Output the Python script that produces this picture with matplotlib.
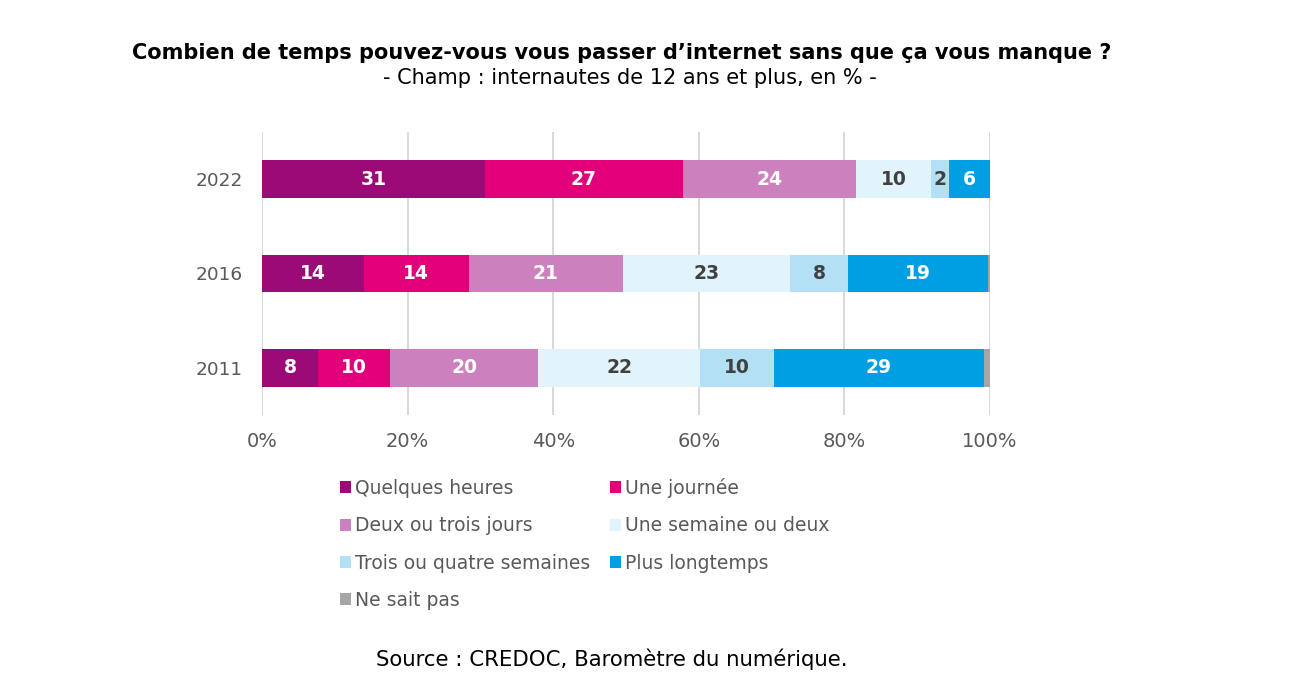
import numpy as np
import matplotlib.pyplot as plt
from matplotlib.patches import Patch

plt.rcParams['font.family'] = ['DejaVu Sans']

years = ['2022', '2016', '2011']
categories = ['Quelques heures', 'Une journée', 'Deux ou trois jours',
              'Une semaine ou deux', 'Trois ou quatre semaines',
              'Plus longtemps', 'Ne sait pas']

# share of each answer per year (2022, 2016, 2011), in %
quelques_heures = [30.6, 14.0, 7.7]
une_journee = [27.2, 14.4, 9.9]
deux_trois_jours = [23.8, 21.2, 20.3]
une_semaine = [10.3, 22.9, 22.3]
trois_quatre_sem = [2.5, 8.0, 10.1]
plus_longtemps = [5.6, 19.2, 28.9]
ne_sait_pas = [0.0, 0.3, 0.8]

# printed labels (rounded values as shown)
labels_qh = ['31', '14', '8']
labels_uj = ['27', '14', '10']
labels_dt = ['24', '21', '20']
labels_us = ['10', '23', '22']
labels_tq = ['2', '8', '10']
labels_pl = ['6', '19', '29']
labels_ns = ['', '', '']

series = [quelques_heures, une_journee, deux_trois_jours, une_semaine,
          trois_quatre_sem, plus_longtemps, ne_sait_pas]
series_labels = [labels_qh, labels_uj, labels_dt, labels_us,
                 labels_tq, labels_pl, labels_ns]
colors = ['#9B0A76', '#E2007A', '#CD80BE', '#E1F4FC', '#B3E0F5',
          '#009FE3', '#A6A6A6']
text_colors = ['white', 'white', 'white', '#404040', '#404040', 'white', 'white']

grey = '#595959'

fig = plt.figure(figsize=(13.13, 6.9), dpi=100)
ax = fig.add_axes([262 / 1313, 1 - 415 / 690, 728 / 1313, 283 / 690])

ypos = np.arange(len(years))
left = np.zeros(len(years))
for vals, labs, col, tcol in zip(series, series_labels, colors, text_colors):
    vals = np.array(vals)
    bars = ax.barh(ypos, vals, left=left, height=0.4, color=col, zorder=3)
    for bar, lab in zip(bars, labs):
        if lab:
            ax.text(bar.get_x() + bar.get_width() / 2, bar.get_y() + bar.get_height() / 2,
                    lab, ha='center', va='center', color=tcol,
                    fontsize=13.5, fontweight='bold', zorder=4)
    left += vals

ax.set_xlim(0, 100)
ax.set_ylim(2.5, -0.5)
ax.set_xticks(np.arange(0, 101, 20))
ax.set_xticklabels([f'{t}%' for t in range(0, 101, 20)], color=grey, fontsize=14)
ax.set_yticks(ypos)
ax.set_yticklabels(years, color=grey, fontsize=13.3)
ax.tick_params(axis='y', length=0, pad=14)
ax.tick_params(axis='x', length=0, pad=12)
ax.grid(axis='x', color='#D6D6D6', linewidth=1.3, zorder=0)
for s in ax.spines.values():
    s.set_visible(False)

fig.text(622 / 1313, 1 - 53 / 690, 'Combien de temps pouvez-vous vous passer d’internet sans que ça vous manque ?',
         ha='center', va='center', fontsize=15, fontweight='bold', color='black')
fig.text(630 / 1313, 1 - 78 / 690, '- Champ : internautes de 12 ans et plus, en % -',
         ha='center', va='center', fontsize=15, color='black')
fig.text(612 / 1313, 1 - 659 / 690, 'Source : CREDOC, Baromètre du numérique.',
         ha='center', va='center', fontsize=15.3, color='black')

# column-first order so the legend reads row by row
order = [0, 2, 4, 6, 1, 3, 5]
handles = [Patch(facecolor=colors[i], edgecolor='none', label=categories[i]) for i in order]
leg = fig.legend(handles=handles, ncol=2, loc='upper left',
                 bbox_to_anchor=(323 / 1313, 1 - 461 / 690), frameon=False,
                 fontsize=13.5, handlelength=0.6, handleheight=0.6,
                 handletextpad=0.2, labelspacing=0.98, columnspacing=1.05)
for t in leg.get_texts():
    t.set_color(grey)

fig.savefig('out.png', dpi=100, facecolor='white')
